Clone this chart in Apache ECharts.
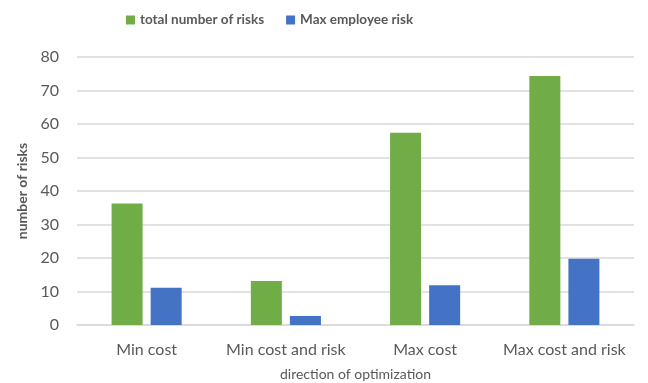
<!DOCTYPE html>
<html>
<head>
<meta charset="utf-8">
<script src="https://cdn.jsdelivr.net/npm/echarts@6/dist/echarts.min.js"></script>
<style>
  html, body { margin: 0; padding: 0; background: #ffffff; }
  #chart { width: 648px; height: 383px; }
</style>
</head>
<body>
<div id="chart"></div>
<script>
// Optimization scenarios and the risk counts for each
const categories = ['Min cost', 'Min cost and risk', 'Max cost', 'Max cost and risk'];
const totalRisks = [36.3, 13.1, 57.4, 74.3];
const maxEmployeeRisk = [11.1, 2.7, 11.9, 19.8];
const yTicks = [0, 10, 20, 30, 40, 50, 60, 70, 80];

const FONT = 'Lato, "Open Sans", sans-serif';
const TEXT = '#595959';
const GRID = '#d9d9d9';

const chart = echarts.init(document.getElementById('chart'));
chart.setOption({
  animation: false,
  textStyle: { fontFamily: FONT },
  legend: {
    top: 8,
    left: 121,
    itemWidth: 9,
    itemHeight: 9,
    itemGap: 22,
    icon: 'rect',
    textStyle: { color: TEXT, fontSize: 13.5, fontWeight: 'bold', fontFamily: FONT }
  },
  grid: { left: 77, right: 14, top: 57, bottom: 58, containLabel: false, outerBoundsMode: 'none' },
  xAxis: {
    type: 'category',
    data: categories,
    name: 'direction of optimization',
    nameLocation: 'middle',
    nameGap: 42,
    nameTextStyle: { color: TEXT, fontSize: 14, fontFamily: FONT },
    axisLine: { lineStyle: { color: GRID, width: 1.5 } },
    axisTick: { show: false },
    axisLabel: { color: TEXT, fontSize: 16, margin: 17, fontFamily: FONT, interval: 0 }
  },
  yAxis: {
    type: 'value',
    min: yTicks[0],
    max: yTicks[yTicks.length - 1],
    interval: 10,
    name: 'number of risks',
    nameLocation: 'middle',
    nameGap: 47,
    nameRotate: 90,
    nameTextStyle: { color: TEXT, fontSize: 14, fontWeight: 'bold', fontFamily: FONT },
    axisLine: { show: false },
    axisTick: { show: false },
    axisLabel: { color: TEXT, fontSize: 16, margin: 18, fontFamily: FONT },
    splitLine: { lineStyle: { color: GRID, width: 1.5 } }
  },
  series: [
    {
      name: 'total number of risks',
      type: 'bar',
      data: totalRisks,
      barWidth: 31,
      barGap: '26%',
      itemStyle: { color: '#70ad47' }
    },
    {
      name: 'Max employee risk',
      type: 'bar',
      data: maxEmployeeRisk,
      barWidth: 31,
      itemStyle: { color: '#4472c4' }
    }
  ]
});
</script>
</body>
</html>
